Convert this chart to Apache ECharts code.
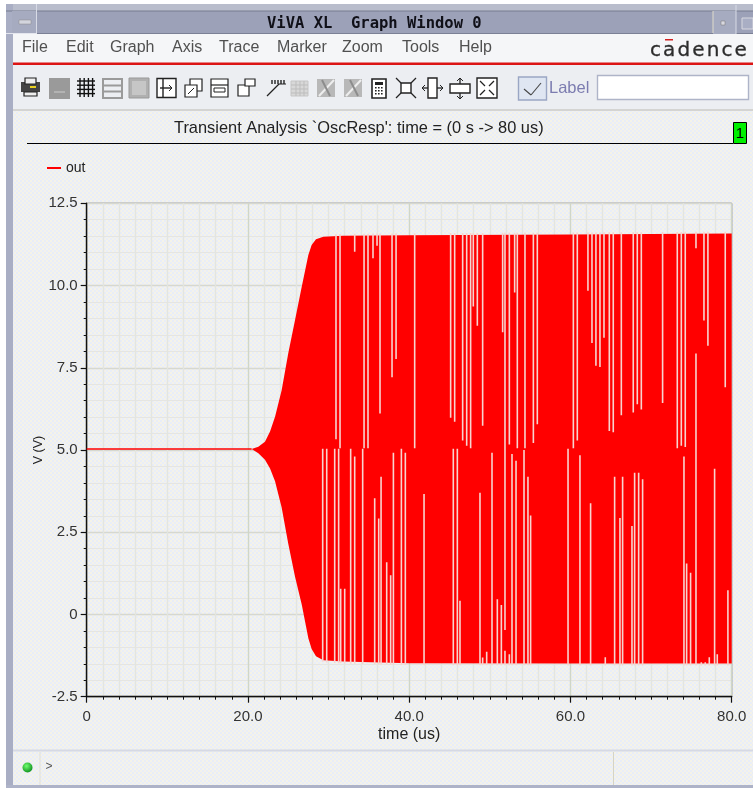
<!DOCTYPE html>
<html>
<head>
<meta charset="utf-8">
<style>
html,body{margin:0;padding:0;background:#fff;overflow:hidden}
#chart{position:absolute;left:0;top:0;width:753px;height:788px}
#logo{position:absolute;left:650px;top:37px;font:20px "DejaVu Sans",sans-serif;letter-spacing:2.1px;color:#2c2c2c;white-space:nowrap;-webkit-text-stroke:0.3px #2c2c2c}
</style>
<script src="https://cdn.jsdelivr.net/npm/echarts@6/dist/echarts.min.js"></script>
</head>
<body>
<div id="chart"></div>
<div id="logo">cadence</div>
<script>
// ---- chart data ----
var seriesName = 'out';
var baseT = [0, 20.46];
var baseV = [5.03, 5.03];
var envT = [20.46,21.29,22.11,22.74,23.36,24.18,25.0,25.84,26.67,27.49,27.9,28.44,29.35,31.8,40,60,80];
var envUpper = [5.03,5.10,5.25,5.56,6.01,6.82,7.94,8.95,9.96,10.93,11.23,11.41,11.48,11.51,11.53,11.55,11.58];
var envLower = [5.03,4.90,4.70,4.44,4.05,3.25,2.15,1.15,0.30,-0.72,-1.05,-1.27,-1.39,-1.43,-1.48,-1.49,-1.49];
var upperGapT = [30.92,31.42,33.24,34.40,34.89,35.51,36.01,36.38,37.87,38.37,40.68,45.14,45.64,46.63,47.13,47.62,47.95,48.45,49.11,51.59,51.88,52.42,53.08,53.41,54.36,55.40,55.89,60.36,60.85,62.17,62.67,63.16,63.66,64.16,64.82,65.31,66.31,67.79,68.29,68.79,71.43,73.25,73.75,74.24,75.57,76.56,77.05,79.20];
var upperGapEnd = [5.33,5.05,11.03,5.05,5.05,10.83,11.21,6.11,7.21,7.77,5.05,5.98,5.86,5.29,5.13,5.05,9.36,8.78,5.74,8.58,-0.47,5.17,9.79,5.05,5.05,5.21,5.78,5.05,5.29,9.84,8.25,7.56,7.52,8.41,5.58,5.54,6.06,6.14,6.39,6.23,6.43,5.05,5.13,5.09,11.13,8.94,8.17,6.91];
var lowerGapT = [29.27,29.77,30.76,31.25,31.50,32.0,32.74,33.24,34.23,35.72,36.22,36.51,37.21,37.70,38.04,39.03,39.52,41.84,45.47,45.97,46.30,48.78,49.11,49.61,50.27,50.93,51.43,51.88,52.42,52.75,53.25,54.24,54.73,55.06,59.70,61.18,62.50,64.32,65.48,66.14,66.47,67.63,67.96,68.46,68.95,74.08,74.41,74.90,75.57,76.23,76.72,77.22,77.88,78.21,79.53];
var lowerGapStart = [5.04,5.04,5.04,5.04,0.78,0.78,5.04,4.80,5.04,3.53,2.92,4.19,1.59,1.19,4.92,5.04,4.92,3.66,5.04,5.04,0.42,3.70,-1.31,-1.13,4.92,0.46,0.29,-1.10,-1.21,4.88,4.67,5.0,4.19,3.01,5.04,4.84,3.38,-1.30,4.19,2.93,4.19,2.69,4.31,4.31,4.11,4.80,1.55,1.27,7.93,-1.45,-1.45,-1.30,4.43,-1.21,0.74];
var xTicks = [0,20,40,60,80];
var xTickLabels = ['0','20.0','40.0','60.0','80.0'];
var yTicks = [-2.5,0,2.5,5,7.5,10,12.5];
var yTickLabels = ['-2.5','0','2.5','5.0','7.5','10.0','12.5'];
var chartTitle = "Transient Analysis `OscResp': time = (0 s -> 80 us)";
var xName = 'time (us)', yName = 'V (V)';
var menuNames = ['File','Edit','Graph','Axis','Trace','Marker','Zoom','Tools','Help'];
var menuX = [22,66,110,172,219,277,342,402,459];

// ---- helpers ----
function envAt(t, arr){
  for(var i=0;i<envT.length-1;i++){
    if(t<=envT[i+1]){var f=(t-envT[i])/(envT[i+1]-envT[i]);return arr[i]+f*(arr[i+1]-arr[i]);}
  }
  return arr[arr.length-1];
}
var gapRows = [];
upperGapT.forEach(function(t,i){gapRows.push([t,upperGapEnd[i],envAt(t,envUpper)+0.06]);});
lowerGapT.forEach(function(t,i){gapRows.push([t,envAt(t,envLower)-0.06,lowerGapStart[i]]);});
var envRows = envT.map(function(t,i){return [t,envUpper[i],envLower[i]];});

// dithered panel background
var tile = document.createElement('canvas');tile.width=4;tile.height=4;
var c = tile.getContext('2d');
var tc = ['#e8edf8','#f5f3e8','#f4f2ea','#e9eef8'];
for(var yy=0;yy<2;yy++)for(var xx=0;xx<2;xx++){
  c.fillStyle=tc[xx+yy*2];c.fillRect(xx*2,yy*2,2,2);
}

var els = [];
function R(x,y,w,h,fill,stroke,lw){els.push({type:'rect',silent:true,shape:{x:x,y:y,width:w,height:h},style:{fill:fill||'none',stroke:stroke||null,lineWidth:lw||1}});}
function L(x1,y1,x2,y2,col,lw){els.push({type:'line',silent:true,shape:{x1:x1,y1:y1,x2:x2,y2:y2},style:{stroke:col||'#000',lineWidth:lw||1}});}
function T(s,x,y,font,fill,align){els.push({type:'text',silent:true,x:x,y:y,style:{text:s,font:font,fill:fill,textAlign:align||'left',textVerticalAlign:'middle'}});}

// window frame
R(0,0,753,4,'#ffffff');
R(0,0,6,788,'#ffffff');
R(6,4,747,7,'#b9bdcc');
R(6,4,7,784,'#a9aec4');
R(13,11,740,22,'#9ca1b8');
L(6,11,753,11,'#777c90',1);
L(13,33.5,753,33.5,'#7b8095',1);
R(12,11,25,23,'#a6abc0',null);
L(36.5,4,36.5,34,'#d8dbe6',1);
L(6,33.5,37,33.5,'#e4e6ee',1);
R(19,20,12,4,'#d3d5de','#888',0.5);
R(713,11,23,23,'#a6abc0');
L(713,11,713,33,'#e0dccb',1);
R(721,21,4,4,'#d8d8e0','#777',0.5);
L(736,5,736,34,'#d8dbe6',1);
R(742,18,11,11,'#a9aec4','#d8d8e0',1);
T('ViVA XL  Graph Window 0',267,24,'bold 15.5px "DejaVu Sans Mono", monospace','#101018');
// menu bar
R(13,34,740,29,'#f5f6f8');
menuNames.forEach(function(n,i){T(n,menuX[i],48,'16px "Liberation Sans", Arial, sans-serif','#505050');});
R(13,62.5,740,2.5,'#dc1414');
R(665,39,8,1.5,'#d02020');
// toolbar
R(13,65,740,45,'#eceef2');
L(13,110,753,110,'#d4d4d2',2);
var D='#222', G='#9a9a9a';
// printer
R(21,82,19,10,'#444');R(25,78,11,6,'#eee',D,1.2);R(24,92,13,4,'#eee',D,1.2);R(30,86,6,2,'#e8d020');
// grey button
R(49,78,21,21,'#9a9a9a');L(54,92,65,92,'#ccc',1);
// grid
for(var g=0;g<4;g++){L(80+g*4.2,78,80+g*4.2,97,'#111',1.4);L(77,81+g*4.2,95,81+g*4.2,'#111',1.4);}
// rows
R(103,79,19,19,'none',G,2);L(103,85.5,122,85.5,G,2);L(103,91.5,122,91.5,G,2);
// grey panel
R(129,78,20,20,'#b0b0b0','#999',1);R(132,81,14,14,'#c6c6c6');
// split arrow
R(157,78.5,19,19,'#fff',D,1.4);L(163,79,163,97,D,1.4);L(160,88,172,88,D,1.4);L(169,85,172,88,D,1);L(169,91,172,88,D,1);
// overlapped
R(190,79,12,12,'#fff',D,1.2);R(185,85,12,12,'#fff',D,1.2);L(188,94,194,88,D,1);
// mid
R(211,79,17,18,'#fff',D,1.2);L(211,85,228,85,D,1.2);R(214,88,11,4,'#fff',D,1);
// corner
R(238,85,11,11,'#fff',D,1.2);R(245,79,10,7,'#fff',D,1.2);
// bars
for(var b=0;b<5;b++){L(272+b*3,80,272+b*3,84,D,1.4);}
L(267,96,279,84,D,1.2);L(279,84,286,84,D,1);
// faded
R(291,81,17,15,'#d8d8d8','#c6c6c6',1);
for(var f=0;f<3;f++){L(291,85+f*4,308,85+f*4,'#bdbdbd',1);L(296+f*4,81,296+f*4,96,'#bdbdbd',1);}
R(317,79,18,18,'#b8b8b8');L(319,96,334,80,'#eee',2);L(322,80,330,96,'#8c8c8c',2);
R(344,79,18,18,'#b8b8b8');L(346,96,361,80,'#eee',2);L(350,80,358,96,'#8c8c8c',2);
// calculator
R(372,79,14,19,'#fff',D,1.6);R(375,82,8,3,'#222');
for(var q=0;q<3;q++){for(var r=0;r<3;r++){R(375+q*3,87+r*3,1.6,1.6,'#222');}}
// zoom-fit
R(401,83,10,10,'#fff',D,1.4);
[[396,78,401,83],[416,78,411,83],[396,98,401,93],[416,98,411,93]].forEach(function(a){L(a[0],a[1],a[2],a[3],D,1.3);});
R(428,78,9,20,'#fff',D,1.4);L(422,88,428,88,D,1.3);L(437,88,443,88,D,1.3);L(422,88,425,85,D,1);L(422,88,425,91,D,1);L(443,88,440,85,D,1);L(443,88,440,91,D,1);
R(450,84,20,9,'#fff',D,1.4);L(460,78,460,84,D,1.3);L(460,93,460,99,D,1.3);L(460,78,457,81,D,1);L(460,78,463,81,D,1);L(460,99,457,96,D,1);L(460,99,463,96,D,1);
R(477,78,20,20,'#fff',D,1.4);
[[480,81,485,86],[494,81,489,86],[480,95,485,90],[494,95,489,90]].forEach(function(a){L(a[0],a[1],a[2],a[3],D,1.2);});
// label button
R(518.5,77,28,23,'#dfe6f2','#9aa6c4',1.4);
L(524,89,531,95,'#444',1.1);L(531,95,541,83,'#444',1.1);
T('Label',549,88,'16.5px "Liberation Sans", Arial, sans-serif','#7c7cb0');
R(597.5,75.5,151,24,'#ffffff','#aeb4c8',1.4);
// title rule and box
L(27,143.5,733,143.5,'#000',1);
R(733.5,122.5,13,21,'#00f000','#000',1);
T('1',740,134,'15px "Liberation Sans", Arial, sans-serif','#000','center');
// status bar
L(13,750.5,753,750.5,'#d6d9e4',2);
L(40,752,40,785,'#dfdfd6',1);
L(613.5,752,613.5,785,'#d6d4c4',1);
els.push({type:'circle',silent:true,shape:{cx:27.5,cy:767.5,r:5},style:{fill:{type:'radial',x:0.4,y:0.35,r:0.7,colorStops:[{offset:0,color:'#70ff70'},{offset:1,color:'#0c8c1c'}]}}});
T('>',45.5,767,'12px "Liberation Sans", Arial, sans-serif','#555');
R(6,785,747,3,'#aeb3c8');

var FONT='"Liberation Sans", Arial, sans-serif';
var chart = echarts.init(document.getElementById('chart'),null,{width:753,height:788,renderer:'canvas'});
chart.setOption({
  animation:false,
  backgroundColor:{image:tile,repeat:'repeat'},
  title:{text:chartTitle,left:174,top:120,padding:0,textStyle:{fontFamily:FONT,fontSize:16.4,fontWeight:'normal',color:'#222'}},
  legend:{data:[seriesName],left:47,top:161,padding:0,itemWidth:14,itemHeight:2,icon:'rect',itemGap:4,textStyle:{fontFamily:FONT,fontSize:14,color:'#222'}},
  grid:{left:86.7,right:21.3,top:203.3,bottom:91.3,show:true,borderColor:'#333',borderWidth:1,backgroundColor:'transparent'},
  xAxis:{type:'value',min:0,max:80,interval:20,name:xName,nameLocation:'middle',nameGap:30,nameMoveOverlap:false,
    nameTextStyle:{fontFamily:FONT,fontSize:16,color:'#222'},
    axisLine:{onZero:false,lineStyle:{color:'#111',width:1.4}},
    axisTick:{length:6,lineStyle:{color:'#111',width:1.2}},
    minorTick:{show:true,splitNumber:10,length:3,lineStyle:{color:'#111',width:1}},
    axisLabel:{margin:13,fontFamily:FONT,fontSize:15,color:'#333',formatter:function(v){return xTickLabels[xTicks.indexOf(v)];}},
    splitLine:{show:true,lineStyle:{color:'#cfd6c8',width:1.4}},
    minorSplitLine:{show:true,lineStyle:{color:'#e3e5e0',width:1.4}}},
  yAxis:{type:'value',min:-2.5,max:12.5,interval:2.5,name:yName,nameLocation:'middle',nameGap:42,nameMoveOverlap:false,
    nameTextStyle:{fontFamily:FONT,fontSize:12.5,color:'#222'},
    axisLine:{onZero:false,lineStyle:{color:'#111',width:1.4}},
    axisTick:{length:6,lineStyle:{color:'#111',width:1.2}},
    minorTick:{show:true,splitNumber:5,length:3,lineStyle:{color:'#111',width:1}},
    axisLabel:{margin:9,fontFamily:FONT,fontSize:15,color:'#333',formatter:function(v){return yTickLabels[yTicks.indexOf(v)];}},
    splitLine:{show:true,lineStyle:{color:'#d6d8d0',width:1.4}},
    minorSplitLine:{show:true,lineStyle:{color:'#e5e5e2',width:1.2}}},
  graphic:{elements:els},
  series:[
    {name:seriesName,type:'line',symbol:'none',silent:true,z:4,
      data:baseT.map(function(t,i){return [t,baseV[i]];}),
      itemStyle:{color:'#ff0000'},lineStyle:{color:'#ff0000',width:1.6}},
    {name:'envelope',type:'custom',silent:true,z:3,clip:true,data:envRows,encode:{x:0,y:1},
      renderItem:function(p,api){
        if(p.dataIndex!==0)return null;
        var pts=[];
        envRows.forEach(function(r){pts.push(api.coord([r[0],r[1]]));});
        envRows.slice().reverse().forEach(function(r){pts.push(api.coord([r[0],r[2]]));});
        return {type:'polygon',shape:{points:pts},style:{fill:'#ff0000'}};
      }},
    {name:'gaps',type:'custom',silent:true,z:5,clip:true,data:gapRows,encode:{x:0,y:[1,2]},
      renderItem:function(p,api){
        var a=api.coord([api.value(0),api.value(1)]),b=api.coord([api.value(0),api.value(2)]);
        return {type:'line',shape:{x1:a[0],y1:a[1],x2:b[0],y2:b[1]},style:{stroke:'#f7d4cf',lineWidth:1.6}};
      }}
  ]
});
</script>
</body>
</html>
